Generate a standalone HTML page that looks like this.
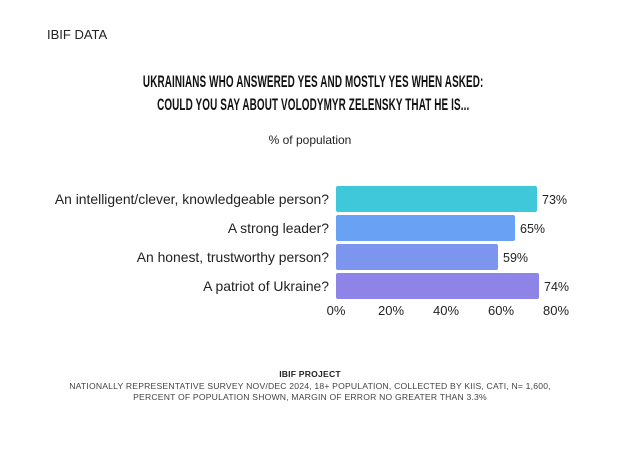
<!DOCTYPE html>
<html><head><style>
body{margin:0;width:620px;height:449px;background:#fff;position:relative;font-family:"Liberation Sans",sans-serif;color:#222;overflow:hidden}
.a{position:absolute;white-space:nowrap}
.t{font-weight:bold;font-size:16.5px;left:0;width:620px;text-align:center;transform:scaleX(0.6);transform-origin:318px 0;letter-spacing:0.2px;color:#111}
.lab{font-size:13.9px;right:291px;text-align:right}
.bar{position:absolute;left:336px;height:26px;border-radius:2px}
.v{font-size:12.5px}
.tk{font-size:13px;width:40px;text-align:center;top:303px}
.f{font-size:8.6px;left:0;width:620px;text-align:center;color:#444;letter-spacing:0.2px}
</style></head><body>
<div class="a" style="left:47px;top:27px;font-size:13px">IBIF DATA</div>
<div class="a t" style="top:73px">UKRAINIANS WHO ANSWERED YES AND MOSTLY YES WHEN ASKED:</div>
<div class="a t" style="top:96px">COULD YOU SAY ABOUT VOLODYMYR ZELENSKY THAT HE IS...</div>
<div class="a" style="left:0;width:620px;text-align:center;top:133px;font-size:12px">% of population</div>

<div class="a lab" style="top:191px">An intelligent/clever, knowledgeable person?</div>
<div class="a lab" style="top:220px">A strong leader?</div>
<div class="a lab" style="top:249px">An honest, trustworthy person?</div>
<div class="a lab" style="top:278px">A patriot of Ukraine?</div>

<div class="bar" style="top:186px;width:201px;background:#3ec8da"></div>
<div class="bar" style="top:215px;width:179px;background:#69a2f5"></div>
<div class="bar" style="top:244px;width:162px;background:#7c96ef"></div>
<div class="bar" style="top:273px;width:203px;background:#8e84e8"></div>

<div class="a v" style="left:542px;top:193px">73%</div>
<div class="a v" style="left:520px;top:222px">65%</div>
<div class="a v" style="left:503px;top:251px">59%</div>
<div class="a v" style="left:544px;top:280px">74%</div>

<div class="a tk" style="left:316px">0%</div>
<div class="a tk" style="left:371px">20%</div>
<div class="a tk" style="left:426px">40%</div>
<div class="a tk" style="left:481px">60%</div>
<div class="a tk" style="left:536px">80%</div>

<div class="a f" style="top:369px;font-weight:bold;color:#222">IBIF PROJECT</div>
<div class="a f" style="top:381px">NATIONALLY REPRESENTATIVE SURVEY NOV/DEC 2024, 18+ POPULATION, COLLECTED BY KIIS, CATI, N= 1,600,</div>
<div class="a f" style="top:392px">PERCENT OF POPULATION SHOWN, MARGIN OF ERROR NO GREATER THAN 3.3%</div>
</body></html>
